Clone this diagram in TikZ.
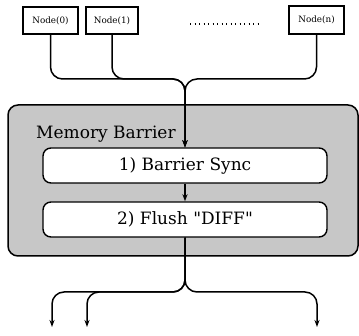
\documentclass[tikz,border=0pt]{standalone}
\usepackage{fontspec}
\setmainfont{DejaVu Serif}[Ligatures=TeXOff]
\usetikzlibrary{positioning, arrows.meta}

\begin{document}
\begin{tikzpicture}[x=1pt, y=1pt,
  proc/.style={draw, line width=1.1pt, fill=white, minimum height=27pt, inner sep=2pt, font=\fontsize{8.8}{10}\selectfont},
  phase/.style={draw, line width=1.4pt, rounded corners=8pt, fill=white, minimum width=284pt, minimum height=35pt, font=\fontsize{17}{19}\selectfont},
  wire/.style={line width=1.5pt, rounded corners=12pt},
  >={Stealth[length=7pt, width=5pt]}]
\useasboundingbox (0,0) rectangle (359,336);
\node[draw, line width=1.5pt, rounded corners=10pt, fill=black!22, minimum width=350pt, minimum height=151pt] (barrier) at (183,155.5) {};
\node[anchor=base west, inner sep=0pt, font=\fontsize{17}{19}\selectfont] (title) at (36,197) {Memory Barrier};
\node[phase] (sync) at (185,170.5) {1) Barrier Sync};
\node[phase] (flush) at (185,116.5) {2) Flush "DIFF"};
\node[proc, minimum width=55pt] (n0) at (50.5,315.5) {Node(0)};
\node[proc, minimum width=52pt] (n1) at (112,315.5) {Node(1)};
\node[proc, minimum width=55pt, minimum height=28pt] (nn) at (316.5,316) {Node(n)};
\draw[line width=1.3pt, dash pattern=on 1.2pt off 3.3pt] (190,312) -- (258,312);
\coordinate (merge) at (185,257);
\coordinate (split) at (185,44);
\coordinate (o0) at (52,9);
\coordinate (o1) at (87,9);
\coordinate (o2) at (317,9);
\draw[wire, ->] (n0) |- (merge) -- (sync);
\draw[wire, ->] (n1) |- (merge) -- (sync);
\draw[wire, ->] (nn) |- (merge) -- (sync);
\draw[line width=1.5pt, ->] (sync) -- (flush);
\draw[wire, ->] (flush) -- (split) -| (o0);
\draw[wire, ->] (flush) -- (split) -| (o1);
\draw[wire, ->] (flush) -- (split) -| (o2);
\end{tikzpicture}
\end{document}
